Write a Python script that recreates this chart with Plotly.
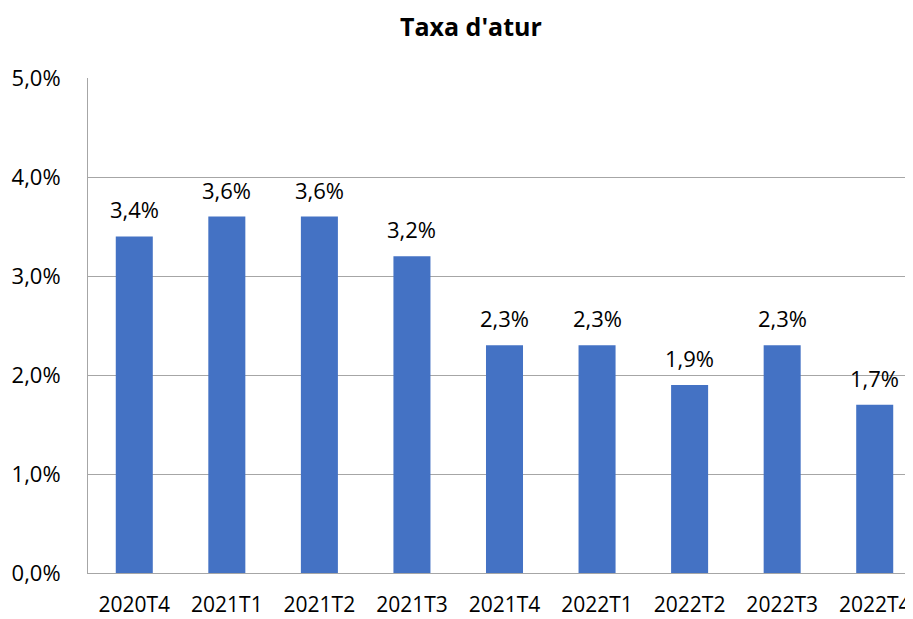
import plotly.graph_objects as go

categories = ["2020T4", "2021T1", "2021T2", "2021T3", "2021T4", "2022T1", "2022T2", "2022T3", "2022T4"]
values = [0.034, 0.036, 0.036, 0.032, 0.023, 0.023, 0.019, 0.023, 0.017]
ytick_vals = [0.0, 0.01, 0.02, 0.03, 0.04, 0.05]

FONT = "Open Sans"

fig = go.Figure()
fig.add_trace(go.Bar(
    x=categories, y=values, marker=dict(color="#4472C4", line=dict(width=0)),
    width=0.4, showlegend=False, hoverinfo="skip",
))

for c, v in zip(categories, values):
    fig.add_annotation(
        x=c, y=v, text=f"{v*100:.1f}%".replace(".", ","), showarrow=False,
        yanchor="bottom", yshift=10, font=dict(family=FONT, size=22, color="#000000"),
    )

fig.update_layout(
    width=913, height=619,
    margin=dict(l=80, r=0, t=70, b=54, autoexpand=False),
    paper_bgcolor="white", plot_bgcolor="white",
    separators=",.",
    title=dict(text="<b>Taxa d'atur</b>", x=0.507, xanchor="center", y=0.969, yanchor="middle",
               font=dict(family=FONT, size=25, color="#000000")),
    font=dict(family=FONT, color="#000000"),
)
fig.update_xaxes(
    type="category", range=[-0.5, 8.5], automargin=False,
    showline=True, linecolor="#a6a6a6", linewidth=1, mirror=False,
    showgrid=False, ticks="", tickfont=dict(family=FONT, size=21, color="#000000"),
    ticklabelstandoff=13,
)
fig.update_yaxes(
    range=[0, 0.05], tickvals=ytick_vals, tickformat=".1%", automargin=False,
    showgrid=True, gridcolor="#a6a6a6", gridwidth=1,
    showline=True, linecolor="#a6a6a6", linewidth=1,
    zeroline=False, ticks="", tickfont=dict(family=FONT, size=22, color="#000000"),
    ticklabelstandoff=22,
)

fig.write_html("out.html")
